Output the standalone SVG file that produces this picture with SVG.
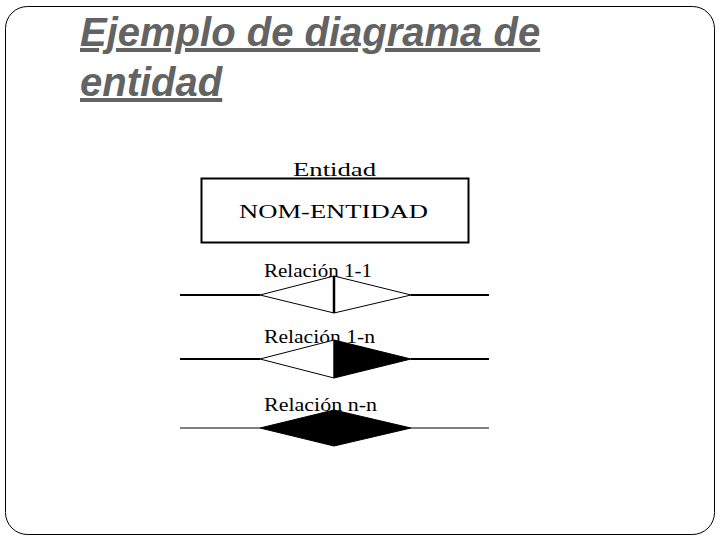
<svg xmlns="http://www.w3.org/2000/svg" width="720" height="540" viewBox="0 0 720 540">
<style>
.title{font-family:"Liberation Sans",Arial,sans-serif;font-weight:bold;font-style:italic;font-size:40px;fill:#636363;text-decoration:underline}
.lbl{font-family:"Liberation Serif","Times New Roman",serif;font-size:18px;fill:#000}
.wire{stroke:#000;stroke-width:2;fill:none}
</style>
<rect x="5.5" y="6.5" width="709" height="528" rx="22" ry="22" fill="#fff" stroke="#000" stroke-width="1"/>
<text class="title" x="80" y="46">Ejemplo de diagrama de</text>
<text class="title" x="80" y="96">entidad</text>
<g id="entidad">
<text class="lbl" x="293" y="176" font-size="17" textLength="83" lengthAdjust="spacingAndGlyphs">Entidad</text>
<rect x="201.5" y="178.5" width="267" height="64" fill="#fff" stroke="#000" stroke-width="2"/>
<text class="lbl" x="239" y="218" font-size="19" textLength="189" lengthAdjust="spacingAndGlyphs">NOM-ENTIDAD</text>
</g>
<g id="connectors">
<line class="wire" x1="180" y1="295" x2="260" y2="295"/>
<line class="wire" x1="411" y1="295" x2="489" y2="295"/>
<line class="wire" x1="180" y1="359" x2="260" y2="359"/>
<line class="wire" x1="411" y1="359" x2="489" y2="359"/>
<line x1="180" y1="428" x2="260" y2="428" stroke="#000" stroke-width="1"/>
<line x1="411" y1="428" x2="489" y2="428" stroke="#000" stroke-width="1"/>
</g>
<g id="rel11">
<text class="lbl" x="264" y="277" textLength="108" lengthAdjust="spacingAndGlyphs">Relación 1-1</text>
<polygon points="260,295 334,276 411,295 334,313" fill="#fff" stroke="#000" stroke-width="1"/>
<line x1="334" y1="276" x2="334" y2="313" stroke="#000" stroke-width="2.5"/>
</g>
<g id="rel1n">
<text class="lbl" x="264" y="343" textLength="111" lengthAdjust="spacingAndGlyphs">Relación 1-n</text>
<polygon points="260,359 334,340 334,378" fill="#fff" stroke="#000" stroke-width="1"/>
<polygon points="334,340 411,359 334,378" fill="#000" stroke="#000" stroke-width="1"/>
</g>
<g id="relnn">
<text class="lbl" x="264" y="411" textLength="113" lengthAdjust="spacingAndGlyphs">Relación n-n</text>
<polygon points="260,428 334,410 411,428 334,446" fill="#000" stroke="#000" stroke-width="1"/>
</g>
</svg>
